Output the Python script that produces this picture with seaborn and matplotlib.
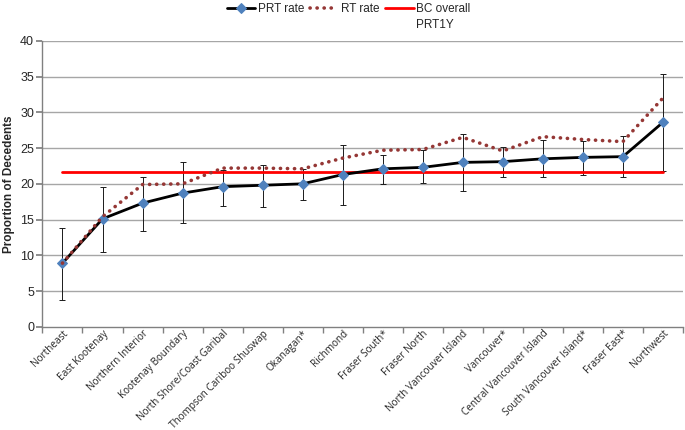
import numpy as np
import pandas as pd
import matplotlib
matplotlib.use("Agg")
import matplotlib.pyplot as plt
import seaborn as sns

# =========================
# DATA
# =========================

regions = ["Northeast", "East Kootenay", "Northern Interior", "Kootenay Boundary",
           "North Shore/Coast Garibal", "Thompson Cariboo Shuswap", "Okanagan*",
           "Richmond", "Fraser South*", "Fraser North", "North Vancouver Island",
           "Vancouver*", "Central Vancouver Island", "South Vancouver Island*",
           "Fraser East*", "Northwest"]

prt_rate = [8.9, 15.1, 17.3, 18.7, 19.6, 19.8, 20.0, 21.3, 22.1, 22.3, 23.0,
            23.1, 23.5, 23.7, 23.8, 28.6]
prt_upper = [13.8, 19.5, 21.0, 23.0, 22.0, 22.7, 22.1, 25.4, 24.1, 24.7, 27.0,
             25.2, 26.1, 26.0, 26.7, 35.4]
prt_lower = [3.8, 10.5, 13.4, 14.5, 16.9, 16.8, 17.8, 17.1, 20.0, 20.1, 19.0,
             20.9, 20.9, 21.3, 20.9, 21.8]
rt_rate = [8.9, 15.4, 19.9, 20.0, 22.2, 22.2, 22.1, 23.6, 24.7, 24.8, 26.5,
           24.6, 26.6, 26.2, 25.9, 32.0]
bc_overall = 21.7

df = pd.DataFrame({
    "pos": np.arange(len(regions)),
    "region": regions,
    "PRT rate": prt_rate,
    "RT rate": rt_rate,
    "BC overall": bc_overall,
})

# =========================
# PLOT
# =========================

sns.set_theme(style="white")
plt.rcParams["font.family"] = ["Liberation Sans", "DejaVu Sans"]

fig, ax = plt.subplots(figsize=(6.85, 4.3), dpi=100)
fig.subplots_adjust(left=0.062, right=0.997, top=0.905, bottom=0.24)

for y in range(5, 45, 5):
    ax.axhline(y, color="#a6a6a6", lw=1, zorder=0)

err = [np.array(prt_rate) - np.array(prt_lower), np.array(prt_upper) - np.array(prt_rate)]
ax.errorbar(df["pos"], df["PRT rate"], yerr=err, fmt="none", ecolor="#1a1a1a",
            elinewidth=0.7, capsize=2.5, capthick=0.7, zorder=2)

sns.lineplot(data=df, x="pos", y="BC overall", color="#ff0000", lw=2,
             ax=ax, label="BC overall", zorder=3)
sns.lineplot(data=df, x="pos", y="PRT rate", color="black", lw=2, marker="D",
             markersize=5, markerfacecolor="#4f81bd", markeredgecolor="#4f81bd",
             ax=ax, label="PRT rate", zorder=4)
sns.lineplot(data=df, x="pos", y="RT rate", color="#953735", lw=2.6,
             linestyle=(0, (0.05, 1.9)), dash_capstyle="round", ax=ax,
             label="RT rate", zorder=5)

ax.set_xlim(-0.5, len(regions) - 0.5)
ax.set_ylim(0, 40)
ax.set_yticks(range(0, 45, 5))
ax.tick_params(axis="y", labelsize=9, length=4, color="#808080", left=True, pad=2)

ax.set_xticks(df["pos"])
ax.set_xticklabels(regions, rotation=45, ha="right", rotation_mode="anchor",
                   fontsize=7.2, family=["Open Sans", "DejaVu Sans"])
ax.tick_params(axis="x", length=0, pad=1)
ax.set_xticks(np.arange(-0.5, len(regions), 1), minor=True)
ax.tick_params(axis="x", which="minor", length=4, color="#808080", bottom=True)

ax.set_xlabel("")
ax.set_ylabel("Proportion of Decedents", fontsize=8.5, fontweight="bold", labelpad=4)

for side in ["top", "right"]:
    ax.spines[side].set_visible(False)
for side in ["left", "bottom"]:
    ax.spines[side].set_color("#808080")
    ax.spines[side].set_linewidth(1)

h, l = ax.get_legend_handles_labels()
order = [1, 2, 0]
leg = ax.legend([h[i] for i in order], [l[i] for i in order], loc="upper center",
                bbox_to_anchor=(0.478, 1.168), ncol=3, frameon=False, fontsize=8.5,
                handlelength=2.4, columnspacing=0.5, handletextpad=0.2)

# second line of the BC overall label, under the first one
fig.canvas.draw()
bb = leg.get_texts()[2].get_window_extent().transformed(fig.transFigure.inverted())
fig.text(bb.x0, bb.y0 - 0.008, "PRT1Y", fontsize=8.5, va="top", ha="left")

fig.savefig("out.png", dpi=100)
